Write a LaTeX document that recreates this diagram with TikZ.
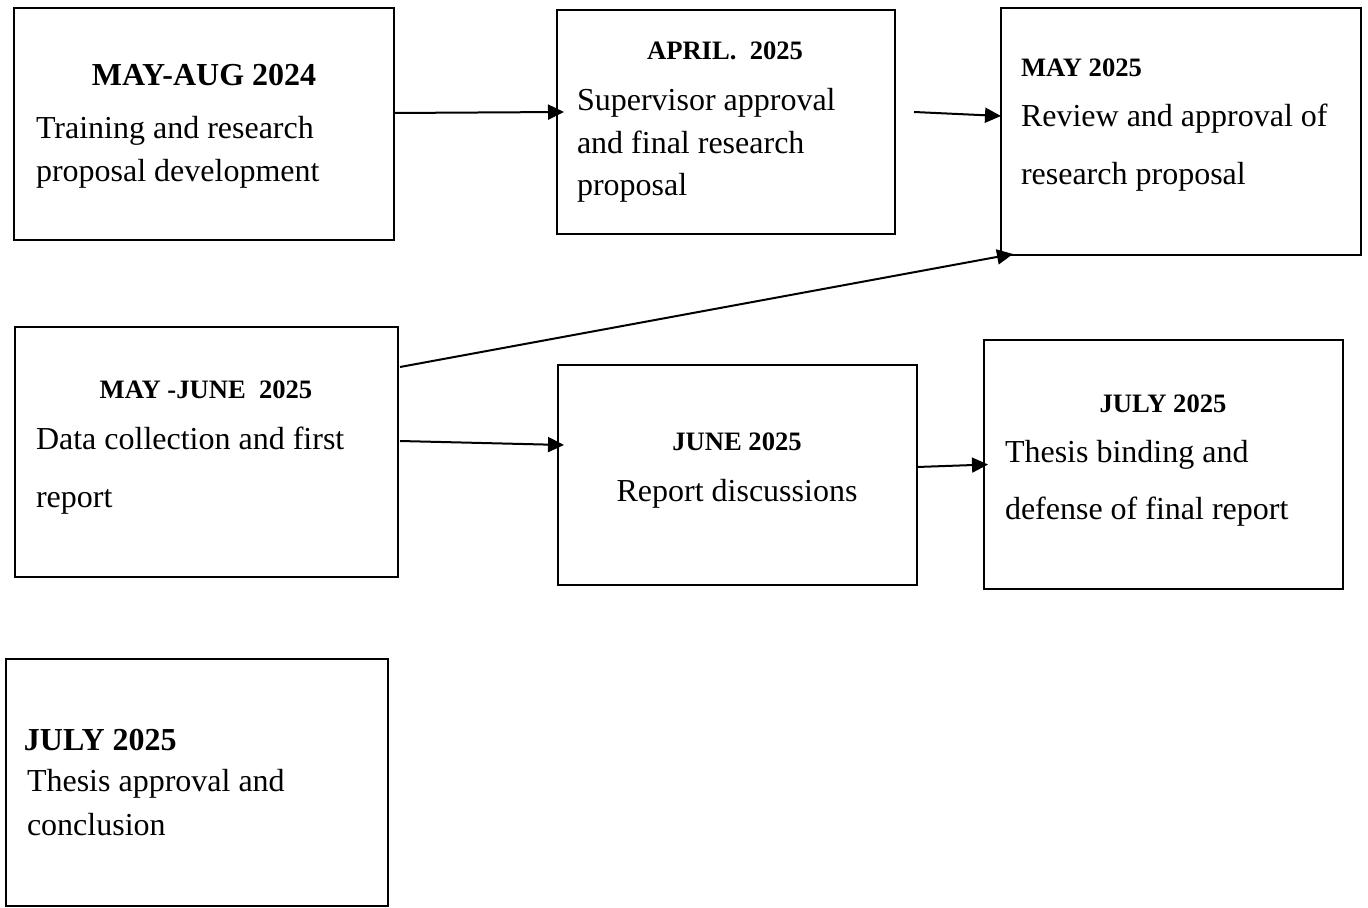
\documentclass[tikz,border=0pt]{standalone}
\usepackage{fontspec}
\setmainfont{Liberation Serif}
\usetikzlibrary{arrows.meta}
\tikzset{
  box/.style={draw=black, line width=0.75pt, inner sep=0pt, outer sep=0pt, fill=white},
  body/.style={inner sep=0pt, outer sep=0pt, align=left, anchor=base west, font=\fontsize{16}{21.5}\selectfont},
  bodywide/.style={body, font=\fontsize{16}{29}\selectfont},
  hdsmall/.style={inner sep=0pt, outer sep=0pt, anchor=base, font=\fontsize{13.3}{16}\selectfont\bfseries},
  hdbig/.style={inner sep=0pt, outer sep=0pt, anchor=base, font=\fontsize{16}{19}\selectfont\bfseries},
  arr/.style={line width=1pt, -{Triangle[length=8pt,width=7.5pt]}},
}
\begin{document}
\begin{tikzpicture}[x=0.5pt,y=-0.5pt]
\path[use as bounding box, fill=white] (0,0) rectangle (1368,908);
% boxes
\node[box, minimum width=190pt, minimum height=116pt] (A) at (204,124) {};
\node[box, minimum width=169pt, minimum height=112pt] (B) at (726,122) {};
\node[box, minimum width=180pt, minimum height=123.5pt] (C) at (1181,131.5) {};
\node[box, minimum width=191.5pt, minimum height=125pt] (D) at (206.5,452) {};
\node[box, minimum width=179.5pt, minimum height=110pt] (E) at (737.5,475) {};
\node[box, minimum width=179.5pt, minimum height=124.5pt] (F) at (1163.5,464.5) {};
\node[box, minimum width=191pt, minimum height=123.5pt] (G) at (197,782.5) {};
% texts (multi-line nodes: base anchor = baseline of last line)
\node[hdbig] (Ah) at (204,86) {MAY-AUG 2024};
\node[body] (At) at (36,182) {Training and research\\proposal development};
\node[hdsmall] (Bh) at (725,60) {APRIL.\ \ 2025};
\node[body, font=\fontsize{16}{21.25}\selectfont] (Bt) at (577,196) {Supervisor approval\\and final research\\proposal};
\node[hdsmall, anchor=base west] (Ch) at (1021,77) {MAY 2025};
\node[bodywide] (Ct) at (1021,185) {Review and approval of\\research proposal};
\node[hdsmall] (Dh) at (206,399) {MAY -JUNE\ \ 2025};
\node[bodywide] (Dt) at (36,507) {Data collection and first\\report};
\node[hdsmall] (Eh) at (737,450) {JUNE 2025};
\node[body, anchor=base] (Et) at (737,501) {Report discussions};
\node[hdsmall] (Fh) at (1163,413) {JULY 2025};
\node[bodywide, font=\fontsize{16}{28.5}\selectfont] (Ft) at (1005,519) {Thesis binding and\\defense of final report};
\node[hdbig, anchor=base west] (Gh) at (24,750) {JULY 2025};
\node[body, font=\fontsize{16}{22}\selectfont] (Gt) at (27,835) {Thesis approval and\\conclusion};
% arrows
\draw[arr] ([yshift=5.5pt]A.east) -- ([xshift=3.5pt,yshift=5pt]B.west);
\draw[arr] ([xshift=9.5pt,yshift=5pt]B.east) -- ([yshift=7.75pt]C.west);
\draw[arr] ([xshift=1pt,yshift=42.5pt]D.east) -- ([xshift=6pt,yshift=0.5pt]C.south west);
\draw[arr] ([xshift=1pt,yshift=5.5pt]D.east) -- ([xshift=3pt,yshift=15pt]E.west);
\draw[arr] ([yshift=4pt]E.east) -- ([xshift=2pt]F.west);
\end{tikzpicture}
\end{document}
